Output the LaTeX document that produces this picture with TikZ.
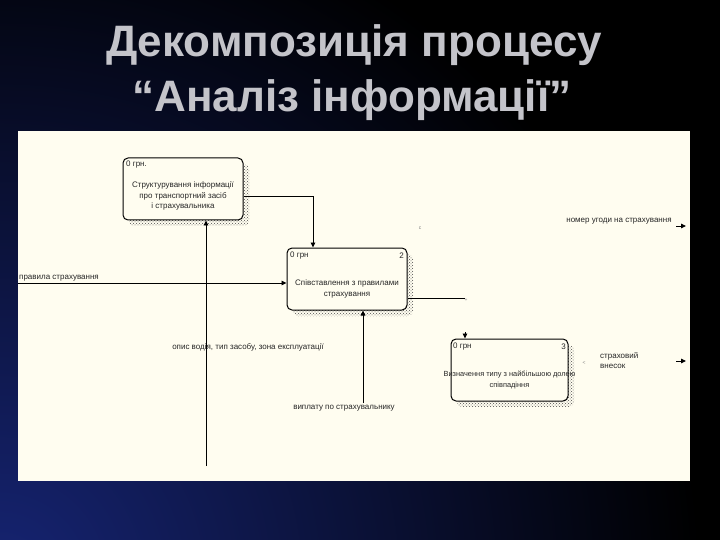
\documentclass[tikz,border=0pt]{standalone}
\usepackage{fontspec}
\setmainfont{Liberation Sans}
\usetikzlibrary{arrows.meta,patterns,calc}
\definecolor{panel}{RGB}{255,253,240}
\definecolor{titlegray}{RGB}{196,196,202}
\definecolor{navy}{RGB}{22,36,115}
\begin{document}
\begin{tikzpicture}[x=1pt,y=-1pt,
  titletext/.style={font=\bfseries\fontsize{44}{52}\selectfont, anchor=base, inner sep=0},
  box/.style={draw=black, line width=1pt, fill=panel, rounded corners=5pt, minimum width=120pt, minimum height=62pt, inner sep=0},
  shadowbox/.style={pattern=crosshatch dots, pattern color=black!70, rounded corners=5pt},
  small/.style={font=\fontsize{8}{10.5}\selectfont, text=black!85, inner sep=0, align=center},
  tiny/.style={font=\fontsize{8}{10}\selectfont, text=black!85, inner sep=0},
  conn/.style={line width=0.9pt, -{Triangle[length=5pt,width=4.5pt]}},
  plain/.style={line width=0.9pt}]
\useasboundingbox (0,0) rectangle (720,540);
\fill[black] (0,0) rectangle (720,540);
\begin{scope}
  \clip (0,0) rectangle (720,540);
  \shade[inner color=navy, outer color=black] (0,580) circle (700pt);
\end{scope}
% title
\node[titletext, text=titlegray] (t1) at (354,57) {Декомпозиція процесу};
\node[titletext, text=titlegray] (t2) at (352,112) {“Аналіз інформації”};
% panel
\fill[panel] (18,131) rectangle (690,481);
% shadows
\fill[shadowbox] (129,164) rectangle (249,226);
\fill[shadowbox] (293,254) rectangle (413,316);
\fill[shadowbox] (457,345) rectangle (574,407);
% boxes
\node[box] (b1) at (183,189) {};
\node[box] (b2) at (347,279) {};
\node[box, minimum width=117pt] (b3) at (509.5,370) {};
% box texts
\node[tiny, anchor=west] (b1c) at (126,165) {0 грн.};
\node[small] (b1t) at (183,196) {Структурування інформації\\про транспортний засіб\\і страхувальника};
\node[tiny, anchor=west] (b2c) at (290,256) {0 грн};
\node[tiny, anchor=east] (b2n) at (404,256) {2};
\node[small] (b2t) at (347,289) {Співставлення з правилами\\страхування};
\node[tiny, anchor=west] (b3c) at (453,347) {0 грн};
\node[tiny, anchor=east] (b3n) at (566,347) {3};
\node[small, font=\fontsize{7.4}{10.5}\selectfont] (b3t) at (509.5,380) {Визначення типу з найбільшою долею\\співпадіння};
% coordinates
\coordinate (in1) at (18,283);
\coordinate (m1) at (206,466);
\coordinate (c2) at (363,403);
\coordinate (o2) at (465,298);
\coordinate (s3) at (465,332);
\coordinate (r1a) at (676,226);
\coordinate (r1b) at (686,226);
\coordinate (r2a) at (676,361);
\coordinate (r2b) at (686,361);
% connectors
\draw[conn] ($(b1.east)+(0,7)$) -| ($(b2.north)+(-34,0)$);
\draw[conn] (in1) -- ($(b2.west)+(0,4)$);
\draw[conn] (m1) -- (m1 |- b1.south);
\draw[conn] (c2) -- (c2 |- b2.south);
\draw[plain] ($(b2.east)+(0,19)$) -- (o2);
\draw[conn] (s3) -- (s3 |- b3.north);
\draw[conn] (r1a) -- (r1b);
\draw[conn] (r2a) -- (r2b);
% labels
\node[tiny, anchor=south west] (l1) at (19,281) {правила страхування};
\node[tiny] (l2) at (248,347) {опис водія, тип засобу, зона експлуатації};
\node[tiny, fill=panel, inner sep=1pt] (l3) at (344,408) {виплату по страхувальнику};
\node[tiny] (l4) at (619,221) {номер угоди на страхування};
\node[tiny, align=left, anchor=west] (l5) at (600,361) {страховий\\внесок};
\node[font=\fontsize{5}{5}\selectfont, text=black!50, inner sep=0] (m1c) at (420,228) {с};
\node[font=\fontsize{5}{5}\selectfont, text=black!50, inner sep=0] (m2c) at (584,363) {<};
\node[font=\fontsize{5}{5}\selectfont, text=black!50, inner sep=0] (m3c) at (466,300) {+};
\end{tikzpicture}
\end{document}
